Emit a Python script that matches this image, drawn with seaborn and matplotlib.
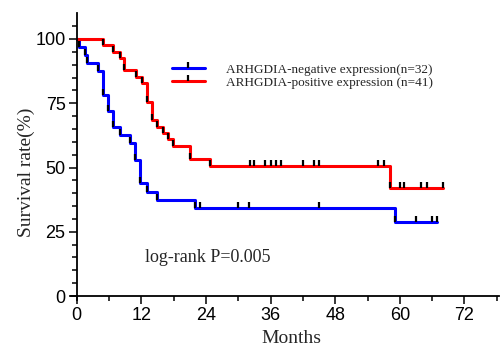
import numpy as np
import pandas as pd
import matplotlib
matplotlib.use("Agg")
import matplotlib.pyplot as plt
from matplotlib.lines import Line2D
import seaborn as sns

# Kaplan-Meier data (months, survival % after each event)
neg_event_times = [0.5, 1.5, 1.9, 4.0, 4.9, 5.9, 6.8, 8.0, 9.9, 10.8, 11.8, 13.0, 14.9, 22.0, 59.1]
neg_surv = [96.9, 93.8, 90.6, 87.5, 78.1, 71.9, 65.6, 62.5, 59.4, 53.1, 43.8, 40.6, 37.5, 34.4, 28.7]
neg_censor_times = [22.9, 30.0, 32.0, 45.0, 63.0, 65.9, 66.9]
neg_end = 66.9

pos_event_times = [4.9, 6.8, 8.0, 8.7, 11.0, 12.2, 13.0, 13.9, 14.9, 16.1, 17.0, 17.9, 21.0, 24.8, 58.1]
pos_surv = [97.6, 95.1, 92.7, 87.8, 85.4, 82.9, 75.6, 68.3, 65.9, 63.4, 61.0, 58.5, 53.4, 50.6, 42.0]
pos_censor_times = [32.1, 32.9, 35.0, 36.0, 37.0, 38.0, 42.0, 44.0, 44.9, 56.0, 57.0, 60.1, 60.8, 64.0, 65.0, 68.0]
pos_end = 68.0

labels = ["ARHGDIA-negative expression(n=32)", "ARHGDIA-positive expression (n=41)"]
colors = ["#0000ff", "#ff0000"]

sns.set_style("ticks")
plt.rcParams["font.family"] = ["Liberation Sans", "DejaVu Sans"]

fig = plt.figure(figsize=(5.02, 3.48), dpi=100)
ax = fig.add_axes([0.142, 0.1382, 0.853, 0.8236])

# upward tick marker (anchored at the point)
tick = [(0, 0), (0, 1)]


def surv_at(t, times, surv):
    s = 100.0
    for et, sv in zip(times, surv):
        if et <= t:
            s = sv
    return s


groups = [
    (neg_event_times, neg_surv, neg_censor_times, neg_end),
    (pos_event_times, pos_surv, pos_censor_times, pos_end),
]

for (times, surv, cens, end), col, lab in zip(groups, colors, labels):
    df = pd.DataFrame({"t": [0] + times + [end], "s": [100.0] + surv + [surv[-1]]})
    sns.lineplot(data=df, x="t", y="s", drawstyle="steps-post", estimator=None,
                 color=col, lw=2.2, ax=ax, zorder=2)
    # black marks at each step
    ax.plot(times, surv, ls="none", marker=tick, ms=9, mew=1.6, mec="black", zorder=3)
    # censor ticks
    cy = [surv_at(t, times, surv) for t in cens]
    ax.plot(cens, cy, ls="none", marker=tick, ms=9, mew=1.6, mec="black", zorder=3)

ax.set_xlim(-1, 78.5)
ax.set_ylim(-1.5, 110)
for side in ["top", "right"]:
    ax.spines[side].set_visible(False)
ax.spines["left"].set_position(("data", 0))
ax.spines["bottom"].set_position(("data", 0))
for side in ["left", "bottom"]:
    ax.spines[side].set_linewidth(1.3)
    ax.spines[side].set_color("black")

ax.set_xticks([0, 12, 24, 36, 48, 60, 72])
ax.set_yticks([0, 25, 50, 75, 100])
ax.set_yticks(np.arange(0, 106, 5), minor=True)
ax.set_xticks(np.arange(0, 79, 6), minor=True)
ax.tick_params(which="major", length=6, width=1.1, labelsize=13, colors="black", pad=2)
ax.tick_params(which="minor", length=3.5, width=1.1, colors="black")

serif = ["Liberation Serif", "DejaVu Serif"]
ax.set_xlabel("Months", fontsize=14, family=serif)
ax.set_ylabel("Survival rate(%)", fontsize=14, family=serif)
ax.xaxis.set_label_coords(0.515, -0.105)
ax.yaxis.set_label_coords(-0.085, 0.446)

ax.text(12.7, 15, "log-rank P=0.005", fontsize=13, family=serif, va="center", ha="left")

handles = [Line2D([0], [0], color=c, lw=2.2, marker=tick, ms=9, mew=1.6, mec="black") for c in colors]
ax.legend(handles, labels, loc="center left", bbox_to_anchor=(0.2346, 0.7805), frameon=False,
          prop={"family": serif, "size": 9.5}, handlelength=2.5, handletextpad=1.6,
          labelspacing=0.05, borderpad=0, borderaxespad=0, numpoints=1)

fig.savefig("out.png", dpi=100)
